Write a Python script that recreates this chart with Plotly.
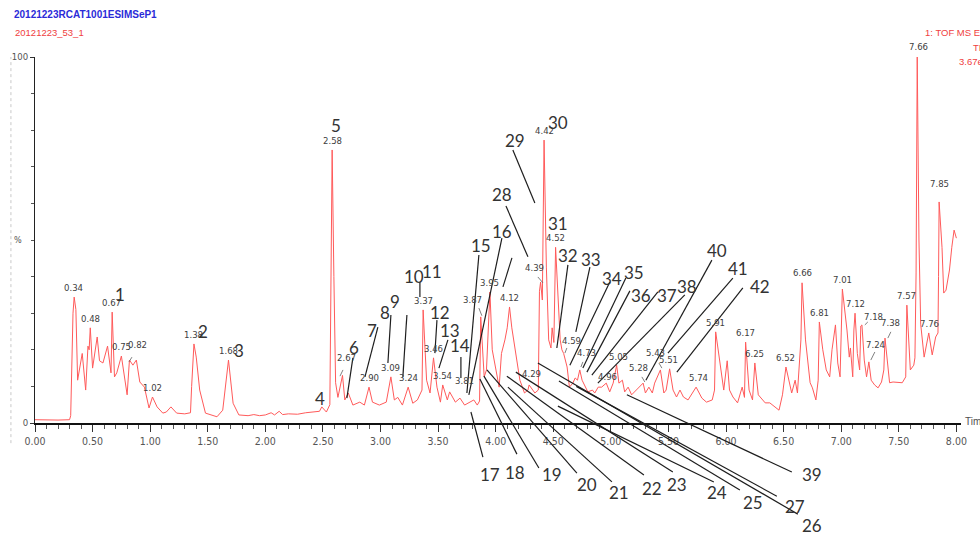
import numpy as np
import plotly.graph_objects as go

# ---- TIC trace: retention time (min) and relative intensity (%) ----
TIME = [0.00, 0.10, 0.20, 0.30, 0.31, 0.33, 0.34, 0.355, 0.37, 0.41, 0.44, 0.46, 0.47, 0.48,
        0.50, 0.54, 0.56, 0.59, 0.63, 0.66, 0.67, 0.69, 0.71, 0.75, 0.80, 0.82, 0.85, 0.88,
        0.91, 0.95, 0.99, 1.02, 1.06, 1.11, 1.14, 1.18, 1.23, 1.30, 1.35, 1.36, 1.38, 1.40,
        1.43, 1.48, 1.58, 1.63, 1.68, 1.72, 1.77, 1.85, 1.90, 1.95, 2.00, 2.05, 2.08, 2.12,
        2.15, 2.20, 2.28, 2.35, 2.42, 2.47, 2.49, 2.53, 2.56, 2.57, 2.58, 2.595, 2.61, 2.63,
        2.67, 2.69, 2.72, 2.76, 2.82, 2.86, 2.90, 2.93, 2.99, 3.05, 3.09, 3.12, 3.15, 3.19,
        3.24, 3.28, 3.32, 3.36, 3.37, 3.40, 3.43, 3.46, 3.49, 3.52, 3.54, 3.58, 3.60, 3.65,
        3.69, 3.73, 3.81, 3.84, 3.86, 3.87, 3.90, 3.92, 3.95, 3.97, 4.01, 4.03, 4.05, 4.08,
        4.10, 4.12, 4.14, 4.18, 4.21, 4.25, 4.28, 4.29, 4.34, 4.37, 4.38, 4.39, 4.405, 4.42,
        4.44, 4.46, 4.48, 4.49, 4.505, 4.52, 4.54, 4.56, 4.575, 4.59, 4.62, 4.64, 4.67, 4.69,
        4.71, 4.73, 4.75, 4.78, 4.80, 4.84, 4.86, 4.89, 4.92, 4.96, 4.99, 5.02, 5.05, 5.07,
        5.10, 5.12, 5.15, 5.18, 5.22, 5.28, 5.30, 5.33, 5.36, 5.38, 5.43, 5.46, 5.48, 5.51,
        5.54, 5.57, 5.60, 5.63, 5.67, 5.74, 5.79, 5.83, 5.88, 5.90, 5.91, 5.96, 5.98, 6.01,
        6.03, 6.06, 6.10, 6.14, 6.16, 6.17, 6.20, 6.23, 6.25, 6.28, 6.34, 6.38, 6.42, 6.46,
        6.49, 6.52, 6.57, 6.60, 6.62, 6.64, 6.65, 6.66, 6.69, 6.73, 6.75, 6.78, 6.80, 6.81,
        6.84, 6.87, 6.90, 6.92, 6.95, 6.97, 6.99, 7.00, 7.01, 7.05, 7.07, 7.08, 7.10, 7.11,
        7.12, 7.14, 7.16, 7.17, 7.18, 7.20, 7.22, 7.24, 7.26, 7.29, 7.32, 7.35, 7.37, 7.38,
        7.42, 7.45, 7.49, 7.53, 7.56, 7.57, 7.60, 7.63, 7.64, 7.65, 7.66, 7.675, 7.69, 7.72,
        7.76, 7.79, 7.82, 7.84, 7.845, 7.85, 7.875, 7.89, 7.91, 7.94, 7.96, 7.98, 8.00]
INTENSITY = [0.9, 0.8, 0.8, 0.9, 2.0, 30.0, 34.4, 31.0, 11.7, 19.0, 9.0, 21.0, 20.0, 26.0,
             15.0, 23.5, 17.0, 16.4, 21.0, 13.7, 30.3, 12.6, 13.7, 18.3, 7.7, 17.2, 15.8, 17.2,
             11.2, 9.8, 4.1, 7.1, 4.4, 2.7, 3.0, 4.4, 2.7, 2.5, 2.8, 10.0, 21.6, 18.0,
             9.0, 2.7, 1.7, 3.5, 17.2, 5.4, 2.2, 2.0, 2.3, 2.0, 2.2, 2.8, 2.2, 3.2,
             2.3, 2.5, 2.4, 2.8, 3.0, 3.2, 4.4, 3.0, 5.0, 50.0, 74.6, 40.0, 11.0, 7.0,
             13.0, 6.3, 8.2, 4.9, 5.7, 4.9, 9.8, 5.7, 4.9, 5.7, 12.6, 6.3, 7.0, 4.9,
             9.8, 5.4, 6.3, 9.0, 30.9, 11.7, 8.2, 17.8, 9.8, 5.7, 10.4, 6.3, 8.5, 5.7,
             6.8, 4.9, 6.3, 4.9, 6.0, 29.0, 12.6, 14.5, 35.8, 20.0, 12.6, 9.8, 19.0, 22.7,
             26.0, 31.7, 26.0, 17.2, 11.7, 8.2, 9.0, 10.4, 8.2, 9.0, 36.0, 38.5, 33.6, 77.3,
             42.6, 22.7, 20.5, 26.0, 22.0, 48.0, 33.6, 22.7, 20.0, 19.0, 15.3, 9.8, 10.9, 12.3,
             11.7, 14.5, 11.7, 9.8, 8.5, 9.0, 8.2, 9.8, 9.8, 10.9, 8.5, 10.9, 15.8, 10.9,
             11.7, 8.5, 9.8, 7.7, 9.0, 10.9, 8.2, 9.8, 8.2, 10.9, 14.5, 8.2, 9.0, 14.8,
             9.0, 7.1, 9.0, 7.1, 6.3, 9.8, 6.8, 5.7, 6.3, 9.0, 24.9, 12.6, 9.0, 17.0,
             9.0, 7.1, 5.5, 9.8, 7.0, 22.1, 9.0, 6.3, 16.4, 7.7, 5.5, 5.5, 4.4, 3.5,
             7.7, 15.3, 8.2, 11.7, 8.2, 16.4, 22.7, 38.3, 22.7, 11.0, 9.6, 6.3, 11.7, 27.6,
             20.0, 14.5, 12.6, 20.0, 26.8, 16.4, 12.6, 24.6, 36.6, 25.4, 18.0, 20.5, 12.6, 25.4,
             30.0, 19.0, 14.5, 26.5, 26.8, 17.2, 12.6, 16.7, 11.7, 10.4, 9.6, 11.2, 14.5, 23.2,
             11.0, 11.2, 11.0, 11.0, 12.6, 32.2, 14.5, 15.8, 17.8, 41.0, 100.0, 50.0, 27.0, 18.0,
             24.6, 18.6, 23.5, 24.6, 40.0, 60.4, 48.0, 35.5, 36.3, 41.8, 48.0, 52.7, 50.5]

# ---- retention-time labels: (time, dx px, yshift px) ----
RT_LABELS = [(0.34, -1, 2), (0.48, 0, 2), (0.67, -1, 2), (0.75, 0, 2), (0.82, 8, 8),
             (1.02, 0, 2), (1.38, 0, 2), (1.68, 0, 2), (2.58, 0, 2), (2.67, 4, 10),
             (2.90, 0, 2), (3.09, 0, 2), (3.24, 0, 2), (3.37, 0, 2), (3.46, 0, 2),
             (3.54, 0, 2), (3.81, -9, 12), (3.87, -8, 10), (3.95, 0, 2), (4.12, 0, 2),
             (4.29, 2, 4), (4.39, -6, 7), (4.42, 0, 2), (4.52, 0, 2), (4.59, 8, 5),
             (4.73, 7, 10), (4.96, 1, -1), (5.05, 2, 1), (5.28, -5, 8), (5.43, -5, 10),
             (5.51, -1, 2), (5.74, 2, 2), (5.91, 0, 2), (6.17, 0, 2), (6.25, 0, 2),
             (6.52, 0, 2), (6.66, 0, 3), (6.81, 0, 2), (7.01, 0, 2), (7.12, 0, 2),
             (7.18, 12, 1), (7.24, 7, 10), (7.38, 6, 8), (7.57, 0, 2), (7.66, 1, 3),
             (7.76, 1, 2), (7.85, 0, 11)]

# short ticks joining shifted retention-time labels to their peaks: (t0, v0, t1, v1)
RT_TICKS = [(0.842, 18.0, 0.816, 16.7), (2.674, 14.5, 2.648, 12.8), (3.854, 31.4, 3.880, 29.3),
            (4.366, 39.9, 4.410, 38.3), (4.618, 20.5, 4.601, 19.1), (4.757, 16.7, 4.740, 15.3),
            (5.269, 12.6, 5.295, 11.2), (5.417, 16.4, 5.443, 15.0), (7.231, 27.6, 7.205, 26.8),
            (7.292, 19.4, 7.257, 17.2), (7.431, 24.9, 7.405, 23.2)]

# ---- compound numbers: (number, time, %) ----
COMPOUNDS = [(1, 0.738, 35.2), (2, 1.458, 25.1), (3, 1.771, 19.7), (4, 2.474, 6.8),
             (5, 2.613, 81.4), (6, 2.769, 20.5), (7, 2.925, 25.4), (8, 3.038, 30.1),
             (9, 3.125, 33.1), (10, 3.290, 39.9), (11, 3.446, 41.5), (12, 3.516, 30.1),
             (13, 3.602, 25.4), (14, 3.689, 21.3), (15, 3.872, 48.6), (16, 4.054, 52.2),
             (17, 3.950, -14.2), (18, 4.167, -13.4), (19, 4.488, -14.2), (20, 4.792, -16.9),
             (21, 5.069, -19.1), (22, 5.356, -17.8), (23, 5.573, -16.7), (24, 5.920, -19.1),
             (25, 6.233, -21.6), (26, 6.745, -27.9), (27, 6.597, -22.9), (28, 4.054, 62.3),
             (29, 4.167, 77.3), (30, 4.540, 82.2), (31, 4.540, 54.6), (32, 4.627, 45.9),
             (33, 4.826, 44.8), (34, 5.009, 39.6), (35, 5.200, 41.0), (36, 5.260, 34.7),
             (37, 5.486, 34.7), (38, 5.660, 37.2), (39, 6.745, -14.2), (40, 5.920, 47.0),
             (41, 6.102, 42.1), (42, 6.293, 37.2)]

# leader lines from each number towards its peak: (t0, v0, t1, v1)
LEADERS = [(2.760, 17.8, 2.708, 6.8), (2.977, 26.2, 2.865, 12.6), (3.090, 29.5, 3.064, 16.4),
           (3.229, 29.5, 3.194, 12.6), (3.342, 38.5, 3.342, 34.4), (3.490, 28.1, 3.472, 19.1),
           (3.585, 22.7, 3.507, 15.0), (3.698, 18.0, 3.698, 12.3), (3.854, 45.9, 3.750, 8.2),
           (4.054, 50.5, 3.767, 7.7), (4.141, 45.1, 4.063, 37.2),
           (3.889, -9.3, 3.785, 3.0), (4.184, -8.5, 3.863, 12.0), (4.375, -12.3, 3.898, 12.8),
           (4.705, -13.7, 3.924, 14.5), (5.009, -16.1, 4.106, 9.8), (5.287, -14.2, 4.097, 12.8),
           (5.538, -13.4, 4.175, 13.9), (5.894, -16.1, 4.540, 4.6), (6.120, -18.3, 4.549, 11.5),
           (6.623, -24.9, 4.366, 16.4), (6.441, -20.0, 4.700, 10.0), (6.571, -13.4, 5.139, 7.7),
           (4.089, 59.3, 4.280, 45.4), (4.149, 74.6, 4.340, 60.1),
           (4.627, 43.2, 4.531, 20.5), (4.818, 42.6, 4.696, 24.9), (4.991, 38.5, 4.644, 15.8),
           (5.130, 39.6, 4.757, 15.0), (5.165, 36.1, 4.792, 13.9), (5.408, 35.8, 4.835, 13.1),
           (5.642, 35.0, 4.887, 10.9), (5.877, 44.5, 5.304, 11.7), (6.059, 39.6, 5.495, 19.1),
           (6.146, 36.9, 5.573, 13.9)]

X_MAX = 8.04
Y_MAX = 100.0

NARROW = "Liberation Sans Narrow, Arial Narrow, DejaVu Sans Condensed, sans-serif"
SANS = "Liberation Sans, Arial, sans-serif"


def px(t):
    return t / X_MAX


def py(v):
    return v / Y_MAX


fig = go.Figure()
fig.add_trace(go.Scatter(x=TIME, y=INTENSITY, mode="lines",
                         line=dict(color="#ff5a5a", width=1), hoverinfo="skip"))

annotations = []
shapes = []

t_arr = np.array(TIME)
i_arr = np.array(INTENSITY)
for t, dx, dy in RT_LABELS:
    v = float(np.interp(t, t_arr, i_arr))
    annotations.append(dict(x=px(t), y=py(v), xref="paper", yref="paper", text=f"{t:.2f}",
                            showarrow=False, xanchor="center", yanchor="bottom",
                            xshift=dx, yshift=dy,
                            font=dict(family=NARROW, size=9.5, color="#404040")))

for t0, v0, t1, v1 in RT_TICKS:
    shapes.append(dict(type="line", xref="paper", yref="paper", x0=px(t0), y0=py(v0),
                       x1=px(t1), y1=py(v1), line=dict(color="#606060", width=0.8)))

for n, t, v in COMPOUNDS:
    annotations.append(dict(x=px(t), y=py(v), xref="paper", yref="paper", text=str(n),
                            showarrow=False, xanchor="center", yanchor="middle",
                            font=dict(family="Lato, Noto Sans, sans-serif", size=17,
                                      color="#333333")))

for t0, v0, t1, v1 in LEADERS:
    shapes.append(dict(type="line", xref="paper", yref="paper", x0=px(t0), y0=py(v0),
                       x1=px(t1), y1=py(v1), line=dict(color="#1e1e1e", width=1.2)))

# page border on the left
shapes.append(dict(type="line", xref="paper", yref="paper", x0=-0.026, x1=-0.026,
                   y0=-0.055, y1=1.0, line=dict(color="#c8c8c8", width=1, dash="dot")))

# header texts
annotations += [
    dict(x=-0.0248, y=1.115, xref="paper", yref="paper", text="<b>20121223RCAT1001ESIMSeP1</b>",
         showarrow=False, xanchor="left", yanchor="middle",
         font=dict(family=SANS, size=10, color="#2b2bd8")),
    dict(x=-0.0238, y=1.0656, xref="paper", yref="paper", text="20121223_53_1",
         showarrow=False, xanchor="left", yanchor="middle",
         font=dict(family=SANS, size=9.5, color="#f04040")),
    dict(x=0.959, y=1.0656, xref="paper", yref="paper", text="1: TOF MS ES+",
         showarrow=False, xanchor="left", yanchor="middle",
         font=dict(family=SANS, size=9.5, color="#f04040")),
    dict(x=1.0108, y=1.0273, xref="paper", yref="paper", text="TIC",
         showarrow=False, xanchor="left", yanchor="middle",
         font=dict(family=SANS, size=9.5, color="#f04040")),
    dict(x=0.9957, y=0.989, xref="paper", yref="paper", text="3.67e4",
         showarrow=False, xanchor="left", yanchor="middle",
         font=dict(family=SANS, size=9.5, color="#f04040")),
    dict(x=1.002, y=0.003, xref="paper", yref="paper", text="Time",
         showarrow=False, xanchor="left", yanchor="middle",
         font=dict(family=SANS, size=10, color="#505050")),
    dict(x=-0.018, y=0.5, xref="paper", yref="paper", text="%",
         showarrow=False, xanchor="center", yanchor="middle",
         font=dict(family=NARROW, size=9, color="#505050")),
]

fig.update_layout(
    width=980, height=533,
    margin=dict(l=35, r=19, t=57, b=110),
    plot_bgcolor="white", paper_bgcolor="white",
    showlegend=False,
    annotations=annotations, shapes=shapes,
    xaxis=dict(range=[0, X_MAX], dtick=0.5, tick0=0, tickformat=".2f",
               showgrid=False, zeroline=False, showline=True, linecolor="#111111",
               linewidth=2, ticks="outside", ticklen=7, tickcolor="#333333",
               tickfont=dict(family=NARROW, size=10.5, color="#555555"),
               minor=dict(dtick=0.1, ticks="outside", ticklen=4, tickcolor="#555555")),
    yaxis=dict(range=[0, Y_MAX], tickvals=[0, 100], ticktext=["0", "100"],
               showgrid=False, zeroline=False, showline=True, linecolor="#222222",
               linewidth=1, ticks="outside", ticklen=4, tickcolor="#333333",
               tickfont=dict(family=NARROW, size=9.5, color="#555555"),
               minor=dict(dtick=10, ticks="outside", ticklen=3, tickcolor="#555555")),
)

fig.write_html("out.html")
